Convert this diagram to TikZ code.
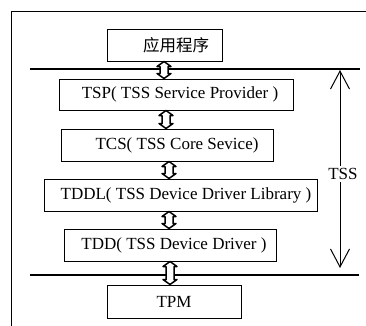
\documentclass[tikz,border=0pt]{standalone}
\usepackage{fontspec}
\setmainfont{Liberation Serif}
\newfontfamily\cjk{Noto Sans CJK SC}
\usetikzlibrary{arrows.meta,calc}
\newcommand\linkarrow[3]{\draw[link] (#1,0 |- #2.south) -- ++(7,5) -- ++(-3,0)
  -- ($(#1,0 |- #3.north)+(4,-5)$) -- ++(3,0) -- (#1,0 |- #3.north) -- ++(-7,-5) -- ++(3,0)
  -- ($(#1,0 |- #2.south)+(-4,5)$) -- ++(-3,0) -- cycle;}
\begin{document}
\begin{tikzpicture}[x=1pt,y=-1pt,
  box/.style={draw, line width=1pt, inner sep=0pt, font=\fontsize{17}{19}\selectfont},
  link/.style={draw, fill=white, line width=1.5pt, line join=round},
  rule/.style={line width=1.3pt},
  tssarrow/.style={line width=1pt, -{Straight Barb[length=18pt, width=19pt, line width=1pt]}},
]
\useasboundingbox (0,0) rectangle (366,325);
\draw[line width=1pt] (11,330) -- (11,11) -- (370,11);
\node[box, minimum width=115pt, minimum height=32pt] (app) at (164.5,45) {\hspace*{23pt}{\cjk\fontsize{16.5}{18}\selectfont 应用程序}};
\node[box, minimum width=234pt, minimum height=31pt] (tsp) at (176,94.5) {\hspace*{8pt}TSP( TSS Service Provider )};
\node[box, minimum width=212pt, minimum height=32pt] (tcs) at (167,145) {\hspace*{20pt}TCS( TSS Core Sevice)};
\node[box, minimum width=273pt, minimum height=32pt] (tddl) at (180.5,195) {\hspace*{11pt}TDDL( TSS Device Driver Library )};
\node[box, minimum width=212pt, minimum height=32pt] (tdd) at (170,245) {\hspace*{8pt}TDD( TSS Device Driver )};
\node[box, minimum width=134pt, minimum height=33pt] (tpm) at (174,301.5) {TPM};
\draw[rule] (30,69) -- (360,69);
\draw[rule] (30,275) -- (359,275);
\linkarrow{164}{app}{tsp}
\linkarrow{166}{tsp}{tcs}
\linkarrow{169}{tcs}{tddl}
\linkarrow{169}{tddl}{tdd}
\linkarrow{170}{tdd}{tpm}
\node[font=\fontsize{17}{19}\selectfont, inner sep=2pt] (tss) at (343,174) {TSS};
\coordinate (ttop) at (340,70);
\coordinate (tbot) at (340,268);
\draw[tssarrow] (tss.north -| ttop) -- (ttop);
\draw[tssarrow] (tss.south -| tbot) -- (tbot);
\end{tikzpicture}
\end{document}
